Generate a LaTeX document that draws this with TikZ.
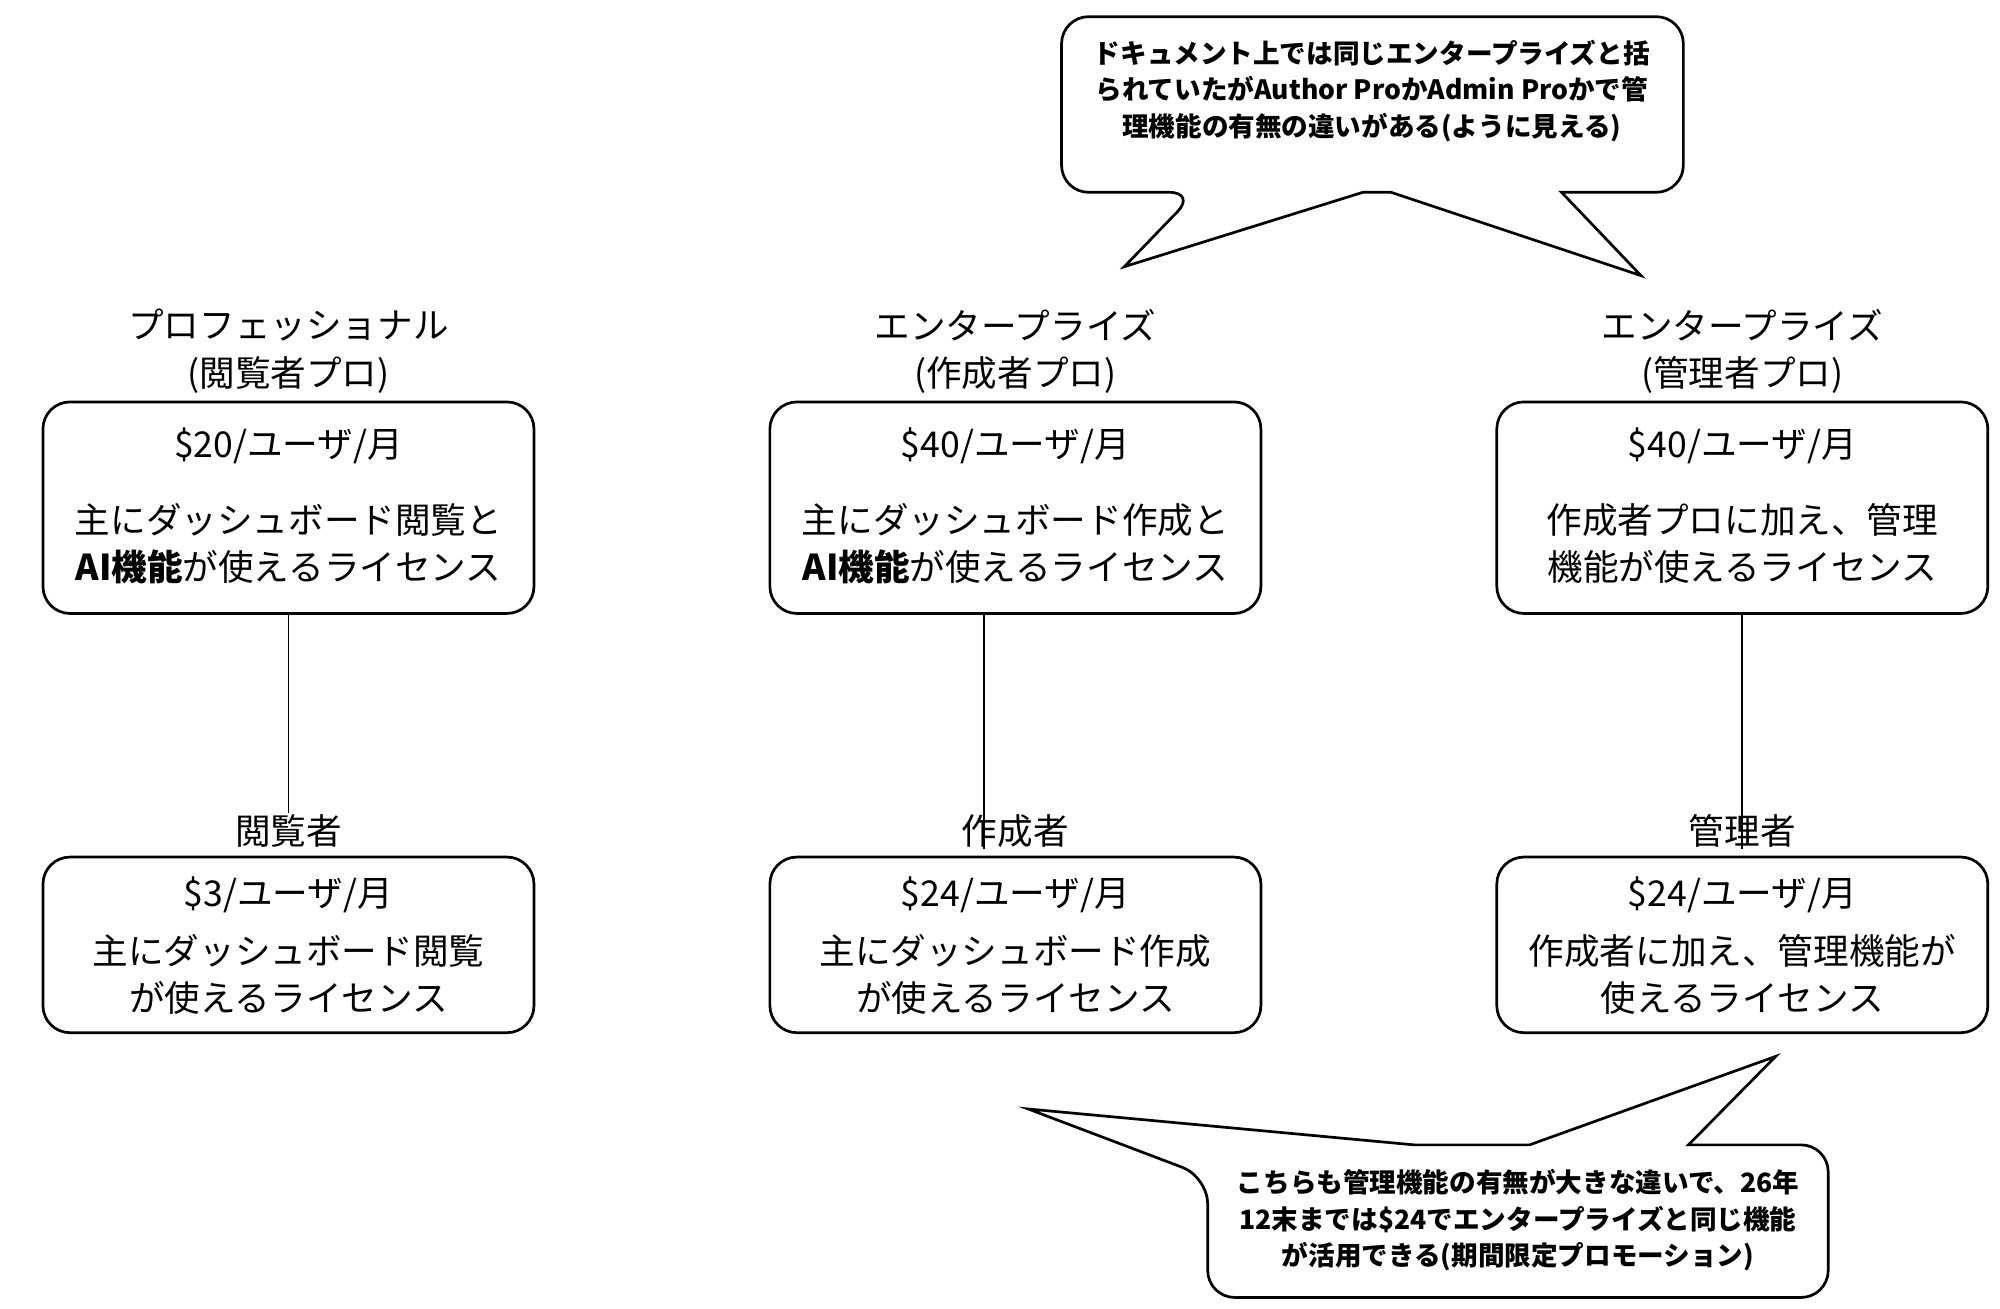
\documentclass[tikz,border=0pt]{standalone}
\usepackage{fontspec}
\setmainfont{Noto Sans CJK JP}
\usetikzlibrary{positioning}
\tikzset{
  plan/.style={draw, rounded corners=6pt, line width=0.6pt, minimum width=38.3mm, inner sep=0pt},
  txt/.style={font=\fontsize{7.9}{10.5}\selectfont, align=center, inner sep=0pt},
  note/.style={font=\bfseries\fontsize{5.9}{8.1}\selectfont, align=center, inner sep=0pt},
  bubble/.style={draw, line width=0.6pt, fill=white, rounded corners=6pt},
  link/.style={line width=0.4pt}
}
\begin{document}
\begin{tikzpicture}[x=0.1mm, y=-0.1mm]
  \useasboundingbox (0,0) rectangle (1560,1021);
  % Obere Lizenzen
  \node[plan, minimum height=16.5mm] (pro) at (225,396) {};
  \node[plan, minimum height=16.5mm] (ent) at (792,396) {};
  \node[plan, minimum height=16.5mm] (adm) at (1359,396) {};
  \node[txt] (proT) at (225,274) {プロフェッショナル\\(閲覧者プロ)};
  \node[txt] (entT) at (792,274) {エンタープライズ\\(作成者プロ)};
  \node[txt] (admT) at (1359,274) {エンタープライズ\\(管理者プロ)};
  \node[txt] (proP) at (225,348) {\$20/ユーザ/月};
  \node[txt] (entP) at (792,348) {\$40/ユーザ/月};
  \node[txt] (admP) at (1359,348) {\$40/ユーザ/月};
  \node[txt] (proD) at (225,424) {主にダッシュボード閲覧と\\\textbf{AI機能}が使えるライセンス};
  \node[txt] (entD) at (792,424) {主にダッシュボード作成と\\\textbf{AI機能}が使えるライセンス};
  \node[txt] (admD) at (1359,424) {作成者プロに加え、管理\\機能が使えるライセンス};
  % Untere Lizenzen
  \node[plan, minimum height=13.7mm] (view) at (225,737) {};
  \node[plan, minimum height=13.7mm] (auth) at (792,737) {};
  \node[plan, minimum height=13.7mm] (mgr) at (1359,737) {};
  \node[txt] (viewT) at (225,648) {閲覧者};
  \node[txt] (authT) at (792,648) {作成者};
  \node[txt] (mgrT) at (1359,648) {管理者};
  \node[txt] (viewP) at (225,698) {\$3/ユーザ/月};
  \node[txt] (authP) at (792,698) {\$24/ユーザ/月};
  \node[txt] (mgrP) at (1359,698) {\$24/ユーザ/月};
  \node[txt] (viewD) at (225,760) {主にダッシュボード閲覧\\が使えるライセンス};
  \node[txt] (authD) at (792,760) {主にダッシュボード作成\\が使えるライセンス};
  \node[txt] (mgrD) at (1359,760) {作成者に加え、管理機能が\\使えるライセンス};
  % Verbindungen
  \draw[link] (pro.south) -- (viewT.north);
  \draw[link] ([xshift=-7]ent.south) -- ([xshift=-7,yshift=-8]authT.north);
  \draw[link] (adm.south) -- ([yshift=-8]mgrT.north);
  % Sprechblasen
  \draw[bubble] (1218,150) -- (1313,150) -- (1313,13) -- (828,13) -- (828,150)
    -- (933,150) [sharp corners] -- (877,208) -- (1063,150) -- (1085,150) -- (1280,215) -- cycle;
  \node[note] (topnote) at (1070,71) {ドキュメント上では同じエンタープライズと括\\られていたがAuthor ProかAdmin Proかで管\\理機能の有無の違いがある(ように見える)};
  \draw[bubble] (1317,893) -- (1426,893) -- (1426,1012) -- (942,1012) -- (942,918)
    [sharp corners] -- (802,865) -- (1103,893) -- (1193,893) -- (1385,824) -- cycle;
  \node[note] (botnote) at (1184,952) {こちらも管理機能の有無が大きな違いで、26年\\12末までは\$24でエンタープライズと同じ機能\\が活用できる(期間限定プロモーション)};
\end{tikzpicture}
\end{document}
